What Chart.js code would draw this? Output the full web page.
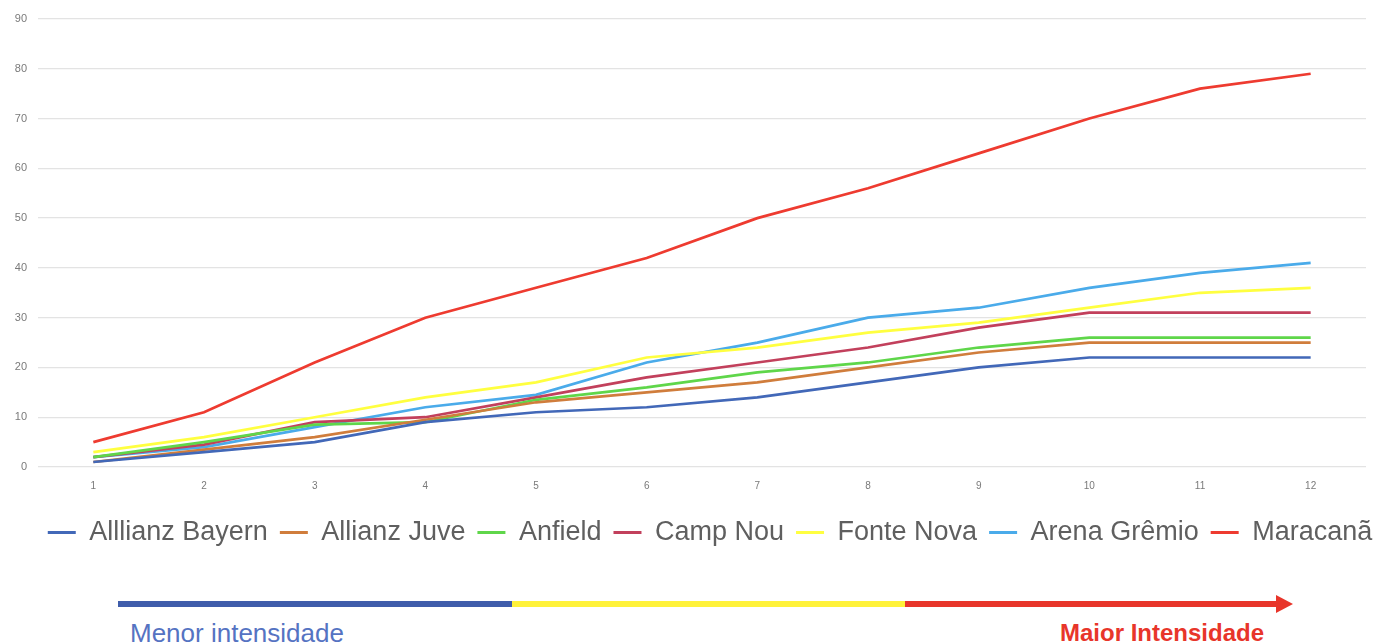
<!DOCTYPE html>
<html>
<head>
<meta charset="utf-8">
<script src="https://cdn.jsdelivr.net/npm/chart.js@4.4.1/dist/chart.umd.min.js"></script>
<style>
  html, body { margin: 0; padding: 0; background: #ffffff; }
  body { width: 1374px; height: 643px; position: relative; overflow: hidden; font-family: "Liberation Sans", Arial, sans-serif; }
  #wrap { position: absolute; left: 0; top: 0; width: 1374px; height: 570px; }
  .seg { position: absolute; top: 601px; height: 6px; }
  #arrowhead { position: absolute; left: 1276px; top: 595px; width: 0; height: 0;
    border-top: 9px solid transparent; border-bottom: 9px solid transparent; border-left: 17px solid #e8352a; }
  .lbl { position: absolute; top: 618px; font-size: 26px; line-height: 30px; white-space: nowrap; }
</style>
</head>
<body>
<div id="wrap"><canvas id="c" width="1374" height="570"></canvas></div>
<div class="seg" style="left:118px;width:394px;background:#3f5dab;"></div>
<div class="seg" style="left:512px;width:393px;background:#fff23a;"></div>
<div class="seg" style="left:905px;width:372px;background:#e8352a;"></div>
<div id="arrowhead"></div>
<div class="lbl" style="left:130px;color:#5573c2;">Menor intensidade</div>
<div class="lbl" style="left:1060px;color:#e8352a;font-weight:bold;font-size:24px;">Maior Intensidade</div>
<script>
const categories = ['1','2','3','4','5','6','7','8','9','10','11','12'];
const seriesNames = ['Alllianz Bayern','Allianz Juve','Anfield','Camp Nou','Fonte Nova','Arena Grêmio','Maracanã'];
const seriesColors = ['#4268b8','#d07d3c','#5fd64a','#c2405c','#ffff40','#4aabea','#ee3b30'];
const allianzBayern = [1, 3, 5, 9, 11, 12, 14, 17, 20, 22, 22, 22];
const allianzJuve   = [1, 3.5, 6, 9.5, 13, 15, 17, 20, 23, 25, 25, 25];
const anfield       = [2, 5, 8.5, 9, 13.5, 16, 19, 21, 24, 26, 26, 26];
const campNou       = [2, 4.5, 9, 10, 14, 18, 21, 24, 28, 31, 31, 31];
const fonteNova     = [3, 6, 10, 14, 17, 22, 24, 27, 29, 32, 35, 36];
const arenaGremio   = [2, 4, 8, 12, 14.5, 21, 25, 30, 32, 36, 39, 41];
const maracana      = [5, 11, 21, 30, 36, 42, 50, 56, 63, 70, 76, 79];
const yTicksMax = 90;
const yTicksStep = 10;

const seriesData = [allianzBayern, allianzJuve, anfield, campNou, fonteNova, arenaGremio, maracana];

const datasets = seriesNames.map((name, i) => ({
  label: name,
  data: seriesData[i],
  borderColor: seriesColors[i],
  backgroundColor: seriesColors[i],
  borderWidth: 2.7,
  pointRadius: 0,
  tension: 0,
  fill: false
}));

const legendShift = {
  id: 'legendShift',
  afterLayout(chart) {
    const l = chart.legend;
    if (l) { l.left += 27; l.right += 27; }
  }
};

new Chart(document.getElementById('c'), {
  type: 'line',
  data: { labels: categories, datasets },
  plugins: [legendShift],
  options: {
    responsive: false,
    animation: false,
    layout: { padding: { top: 19, right: 8, bottom: 14, left: 0 } },
    plugins: {
      tooltip: { enabled: false },
      legend: {
        position: 'bottom',
        labels: {
          color: '#5f5f5f',
          font: { family: '"Liberation Sans", Arial, sans-serif', size: 27 },
          boxWidth: 28,
          boxHeight: 3,
          padding: 12,
          generateLabels(chart) {
            const items = Chart.defaults.plugins.legend.labels.generateLabels(chart);
            items.forEach(it => { it.lineWidth = 0; it.fillStyle = it.strokeStyle; });
            return items;
          }
        }
      }
    },
    scales: {
      x: {
        offset: true,
        grid: { display: false, drawTicks: false },
        border: { display: false },
        ticks: { color: '#7a7a7a', font: { size: 10, family: '"Liberation Sans", Arial, sans-serif' }, padding: 13, maxRotation: 0 },
        afterFit(scale) { scale.height = 40; }
      },
      y: {
        min: 0,
        max: yTicksMax,
        grid: { color: '#e3e3e3', lineWidth: 1.3, drawTicks: false },
        border: { display: false },
        ticks: { stepSize: yTicksStep, color: '#7a7a7a', font: { size: 11, family: '"Liberation Sans", Arial, sans-serif' }, padding: 11 },
        afterFit(scale) { scale.width = 38; }
      }
    }
  }
});
</script>
</body>
</html>
